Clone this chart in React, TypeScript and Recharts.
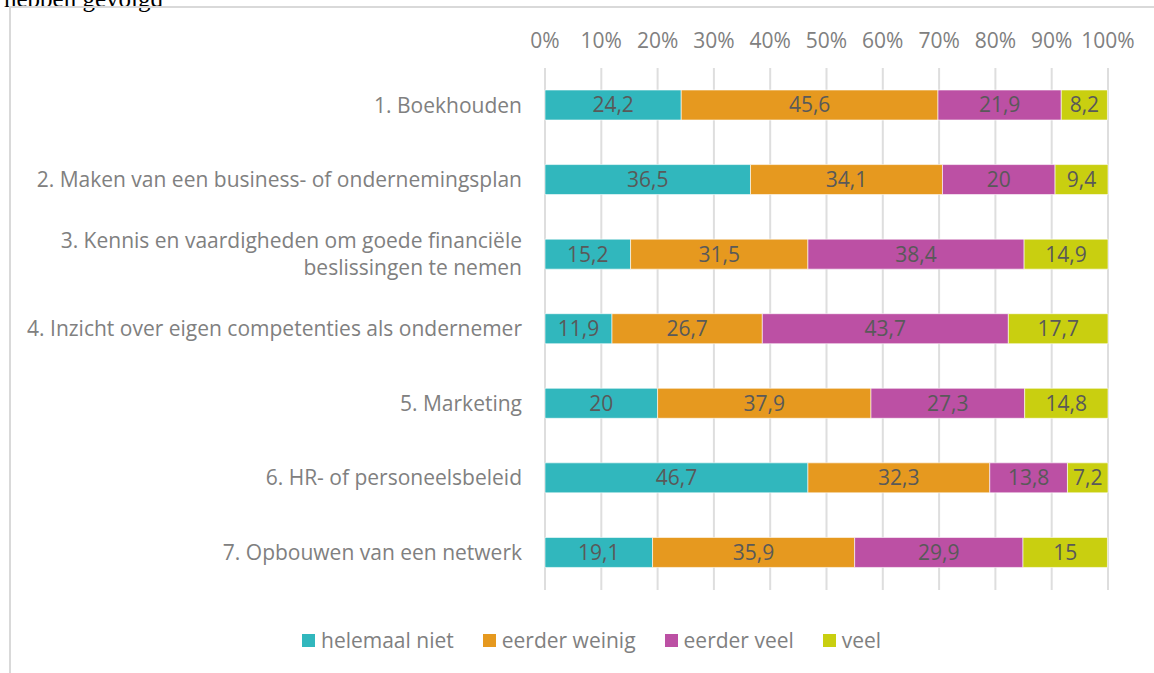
import { BarChart, Bar, XAxis, YAxis, CartesianGrid, LabelList } from "recharts";

const categories = [
  "1. Boekhouden",
  "2. Maken van een business- of ondernemingsplan",
  "3. Kennis en vaardigheden om goede financiële\nbeslissingen te nemen",
  "4. Inzicht over eigen competenties als ondernemer",
  "5. Marketing",
  "6. HR- of personeelsbeleid",
  "7. Opbouwen van een netwerk",
];

const helemaalNiet = [24.2, 36.5, 15.2, 11.9, 20, 46.7, 19.1];
const eerderWeinig = [45.6, 34.1, 31.5, 26.7, 37.9, 32.3, 35.9];
const eerderVeel = [21.9, 20, 38.4, 43.7, 27.3, 13.8, 29.9];
const veel = [8.2, 9.4, 14.9, 17.7, 14.8, 7.2, 15];

const xTicks = [0, 10, 20, 30, 40, 50, 60, 70, 80, 90, 100];

const series = [
  { key: "helemaalNiet", name: "helemaal niet", color: "#31b7bd" },
  { key: "eerderWeinig", name: "eerder weinig", color: "#e6991f" },
  { key: "eerderVeel", name: "eerder veel", color: "#bc50a4" },
  { key: "veel", name: "veel", color: "#c9cf10" },
];

const FONT = "'Open Sans', sans-serif";
const FS = 21;

const data = categories.map((name, i) => ({
  name,
  helemaalNiet: helemaalNiet[i],
  eerderWeinig: eerderWeinig[i],
  eerderVeel: eerderVeel[i],
  veel: veel[i],
}));

const fmt = (v: any) => String(v).replace(".", ",");

function CategoryTick(props: any) {
  const { x, y, payload } = props;
  const lines = String(payload.value).split("\n");
  const lh = 27;
  const start = -((lines.length - 1) * lh) / 2;
  return (
    <text x={x} y={y} textAnchor="end" fill="#808080" fontSize={FS} fontFamily={FONT}>
      {lines.map((l, i) => (
        <tspan key={i} x={x} y={y + start + i * lh} dy="0.35em">
          {l}
        </tspan>
      ))}
    </text>
  );
}

export default function App() {
  return (
    <div style={{ position: "fixed", left: 0, top: 0, width: 1154, height: 673, overflow: "hidden", background: "#fff" }}>
      <div
        style={{
          position: "absolute",
          left: 4,
          top: -15,
          fontFamily: "'Liberation Serif', 'Times New Roman', serif",
          fontSize: 25,
          color: "#000",
          whiteSpace: "nowrap",
        }}
      >
        hebben gevolgd
      </div>
      <div
        style={{
          position: "absolute",
          left: 9,
          top: 6,
          width: 1200,
          height: 700,
          borderLeft: "2px solid #d9d9d9",
          borderTop: "2px solid #d9d9d9",
        }}
      />
      <div style={{ position: "absolute", left: 0, top: 0 }}>
        <BarChart
          width={1154}
          height={673}
          data={data}
          layout="vertical"
          barSize={30}
          margin={{ top: 38, right: 46, bottom: 83, left: 10 }}
        >
          <CartesianGrid horizontal={false} stroke="#dedede" strokeWidth={2} />
          <XAxis
            type="number"
            orientation="top"
            domain={[0, 100]}
            ticks={xTicks}
            tickFormatter={(v) => `${v}%`}
            axisLine={false}
            tickLine={false}
            height={30}
            tickMargin={14}
            tick={{ fill: "#808080", fontSize: FS, fontFamily: FONT }}
            interval={0}
          />
          <YAxis
            type="category"
            dataKey="name"
            width={535}
            axisLine={false}
            tickLine={false}
            tickMargin={17}
            tick={<CategoryTick />}
            interval={0}
          />
          {series.map((s) => (
            <Bar
              key={s.key}
              dataKey={s.key}
              name={s.name}
              stackId="a"
              fill={s.color}
              stroke="#ffffff"
              strokeWidth={0.6}
              isAnimationActive={false}
            >
              <LabelList
                dataKey={s.key}
                position="center"
                formatter={fmt}
                fill="#595959"
                fontSize={FS}
                fontFamily={FONT}
              />
            </Bar>
          ))}
        </BarChart>
      </div>
      <div
        style={{
          position: "absolute",
          left: 302,
          top: 626,
          display: "flex",
          alignItems: "center",
          fontFamily: FONT,
          fontSize: FS,
          color: "#808080",
          whiteSpace: "nowrap",
        }}
      >
        {series.map((s) => (
          <div key={s.key} style={{ display: "flex", alignItems: "center", marginRight: 29 }}>
            <span style={{ width: 13, height: 13, background: s.color, display: "inline-block", marginRight: 6 }} />
            <span>{s.name}</span>
          </div>
        ))}
      </div>
    </div>
  );
}
